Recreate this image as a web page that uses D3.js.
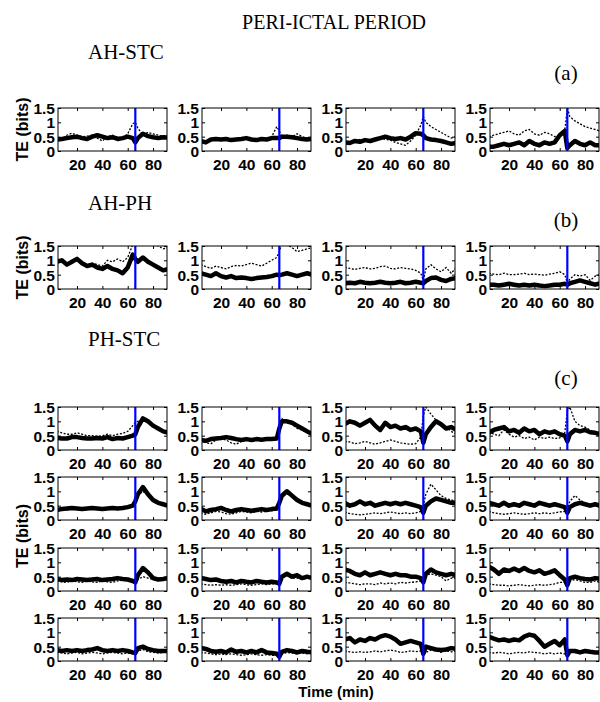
<!DOCTYPE html>
<html><head><meta charset="utf-8">
<script src="https://cdn.jsdelivr.net/npm/d3@7"></script>
<style>body{margin:0;background:#fff}svg{display:block}</style>
</head><body>
<svg id="chart" width="600" height="702"></svg>
<script>
// ---------- data ----------
const timeMin = [4,8,12,16,20,24,28,32,36,40,44,48,52,56,60,64,66,68,72,76,80,84,88,92];
const onsetMin = 66;
const xTicks = [20,40,60,80];
const yTicks = [0,0.5,1,1.5];
const yTickLabels = ["0","0.5","1","1.5"];
const sectionTitles = ["AH-STC","AH-PH","PH-STC"];
const sectionTags = ["(a)","(b)","(c)"];
const mainTitle = "PERI-ICTAL PERIOD";

// (a) AH-STC
const ahStcSolid = [
  [0.4,0.42,0.45,0.48,0.5,0.45,0.42,0.5,0.55,0.5,0.45,0.48,0.42,0.45,0.5,0.45,0.3,0.45,0.6,0.52,0.48,0.45,0.48,0.47],
  [0.35,0.3,0.4,0.42,0.4,0.42,0.38,0.4,0.42,0.45,0.4,0.38,0.42,0.4,0.45,0.45,0.45,0.5,0.5,0.48,0.45,0.42,0.4,0.42],
  [0.3,0.28,0.35,0.32,0.38,0.35,0.4,0.45,0.5,0.45,0.42,0.45,0.4,0.5,0.62,0.6,0.55,0.45,0.4,0.38,0.35,0.3,0.25,0.28],
  [0.15,0.15,0.2,0.25,0.2,0.25,0.3,0.2,0.35,0.25,0.2,0.3,0.25,0.3,0.55,0.7,0.1,0.2,0.35,0.25,0.2,0.3,0.2,0.2]
];
const ahStcDotted = [
  [0.38,0.42,0.55,0.62,0.55,0.5,0.52,0.55,0.45,0.35,0.5,0.55,0.48,0.45,0.6,0.95,1.0,0.8,0.55,0.65,0.6,0.55,0.52,0.5],
  [0.35,0.3,0.38,0.4,0.38,0.4,0.35,0.38,0.4,0.42,0.38,0.35,0.4,0.38,0.5,0.85,0.7,0.5,0.55,0.5,0.6,0.5,0.45,0.45],
  [0.25,0.3,0.35,0.4,0.35,0.38,0.42,0.45,0.4,0.38,0.3,0.25,0.2,0.35,0.55,0.9,1.2,1.0,0.85,0.75,0.65,0.55,0.45,0.5],
  [0.5,0.55,0.6,0.65,0.7,0.6,0.55,0.7,0.75,0.6,0.55,0.65,0.6,0.5,0.55,0.7,1.5,1.2,1.05,0.95,0.85,0.8,0.75,0.7]
];
// (b) AH-PH
const ahPhSolid = [
  [0.95,1.0,0.85,0.95,1.05,0.9,0.8,0.85,0.75,0.7,0.8,0.7,0.65,0.55,0.75,1.2,1.05,0.95,1.1,0.95,0.85,0.75,0.65,0.7],
  [0.55,0.5,0.45,0.55,0.45,0.4,0.45,0.38,0.4,0.38,0.35,0.38,0.4,0.42,0.45,0.5,0.48,0.5,0.55,0.5,0.45,0.5,0.55,0.5],
  [0.2,0.22,0.2,0.25,0.22,0.2,0.22,0.25,0.22,0.2,0.22,0.25,0.2,0.22,0.25,0.22,0.2,0.28,0.38,0.4,0.32,0.28,0.35,0.38],
  [0.15,0.15,0.12,0.15,0.18,0.15,0.12,0.15,0.12,0.15,0.12,0.1,0.12,0.15,0.15,0.18,0.15,0.2,0.25,0.3,0.25,0.2,0.15,0.2]
];
const ahPhDotted = [
  [0.95,1.0,0.85,0.95,1.05,0.95,0.85,0.9,0.85,0.8,1.0,0.95,1.05,0.95,1.1,1.55,1.7,1.8,1.7,1.6,1.6,1.5,1.4,1.45],
  [0.85,0.78,0.72,0.8,0.75,0.7,0.78,0.82,0.8,0.85,0.9,0.85,0.8,0.9,1.0,1.1,1.3,1.6,1.55,1.45,1.3,1.35,1.4,1.45],
  [0.75,0.72,0.68,0.72,0.75,0.7,0.72,0.78,0.8,0.72,0.7,0.75,0.72,0.7,0.65,0.55,0.3,0.7,0.85,0.7,0.6,0.75,0.55,0.75],
  [0.55,0.52,0.5,0.55,0.5,0.5,0.52,0.55,0.5,0.52,0.5,0.48,0.52,0.55,0.6,0.5,0.2,0.35,0.5,0.45,0.5,0.3,0.45,0.5]
];
// (c) PH-STC, four rows of four panels
const phStcSolid = [
  [0.42,0.4,0.4,0.45,0.45,0.42,0.4,0.4,0.42,0.4,0.45,0.38,0.42,0.4,0.45,0.5,0.55,0.8,1.1,1.0,0.85,0.75,0.65,0.6],
  [0.35,0.32,0.38,0.4,0.42,0.45,0.42,0.38,0.35,0.38,0.35,0.38,0.36,0.38,0.38,0.4,0.75,1.0,1.0,0.95,0.85,0.75,0.65,0.55],
  [0.9,1.0,0.95,0.85,0.95,1.05,0.85,0.7,0.95,0.8,0.85,0.75,0.8,0.7,0.75,0.65,0.25,0.55,0.8,1.0,0.9,0.75,0.8,0.7],
  [0.6,0.7,0.75,0.8,0.65,0.7,0.6,0.75,0.65,0.7,0.55,0.65,0.6,0.65,0.55,0.5,0.3,0.55,0.7,0.65,0.7,0.62,0.6,0.55],
  [0.35,0.38,0.4,0.42,0.4,0.38,0.4,0.42,0.4,0.38,0.4,0.42,0.4,0.42,0.45,0.5,0.65,0.9,1.15,0.9,0.7,0.6,0.55,0.5],
  [0.4,0.3,0.35,0.38,0.42,0.35,0.3,0.35,0.38,0.35,0.32,0.35,0.38,0.35,0.38,0.4,0.6,0.85,1.0,0.85,0.7,0.6,0.55,0.5],
  [0.6,0.5,0.55,0.65,0.55,0.6,0.5,0.55,0.6,0.55,0.6,0.55,0.6,0.55,0.5,0.45,0.25,0.5,0.65,0.75,0.7,0.65,0.6,0.6],
  [0.6,0.55,0.5,0.6,0.5,0.55,0.5,0.6,0.55,0.5,0.6,0.55,0.5,0.55,0.5,0.45,0.25,0.45,0.55,0.6,0.55,0.5,0.55,0.5],
  [0.42,0.38,0.4,0.38,0.42,0.4,0.38,0.4,0.42,0.38,0.4,0.42,0.45,0.42,0.4,0.35,0.3,0.55,0.8,0.65,0.45,0.4,0.42,0.45],
  [0.45,0.42,0.38,0.4,0.35,0.32,0.35,0.3,0.35,0.32,0.3,0.35,0.32,0.3,0.32,0.3,0.25,0.5,0.6,0.5,0.55,0.45,0.5,0.45],
  [0.75,0.7,0.6,0.55,0.65,0.55,0.6,0.65,0.6,0.55,0.6,0.55,0.55,0.5,0.5,0.45,0.3,0.6,0.75,0.65,0.6,0.55,0.6,0.55],
  [0.85,0.75,0.6,0.75,0.7,0.78,0.7,0.8,0.7,0.65,0.72,0.6,0.65,0.72,0.55,0.4,0.2,0.45,0.5,0.45,0.42,0.4,0.45,0.42],
  [0.38,0.35,0.38,0.35,0.38,0.35,0.38,0.4,0.45,0.38,0.35,0.38,0.35,0.38,0.35,0.3,0.28,0.45,0.5,0.42,0.38,0.35,0.35,0.35],
  [0.45,0.42,0.35,0.32,0.35,0.3,0.4,0.32,0.35,0.3,0.35,0.3,0.38,0.3,0.28,0.25,0.15,0.32,0.38,0.35,0.3,0.35,0.32,0.3],
  [0.75,0.8,0.65,0.75,0.7,0.8,0.75,0.85,0.9,0.85,0.75,0.6,0.65,0.7,0.65,0.6,0.25,0.5,0.45,0.4,0.38,0.4,0.45,0.42],
  [0.85,0.78,0.72,0.75,0.7,0.75,0.72,0.85,0.92,0.88,0.7,0.5,0.6,0.7,0.55,0.75,0.2,0.35,0.35,0.3,0.35,0.32,0.3,0.3]
];
const phStcDotted = [
  [0.65,0.6,0.55,0.55,0.6,0.55,0.5,0.5,0.48,0.5,0.55,0.5,0.55,0.58,0.65,0.85,0.95,1.0,1.05,1.0,0.9,0.75,0.65,0.6],
  [0.35,0.25,0.22,0.35,0.4,0.35,0.25,0.2,0.3,0.35,0.32,0.35,0.35,0.38,0.35,0.45,0.9,1.1,0.95,0.9,0.75,0.7,0.6,0.55],
  [0.3,0.28,0.22,0.25,0.3,0.25,0.2,0.25,0.3,0.35,0.3,0.25,0.22,0.2,0.22,0.45,1.2,1.5,1.25,1.05,0.95,0.8,0.65,0.55],
  [0.65,0.55,0.5,0.7,0.55,0.45,0.5,0.4,0.45,0.35,0.45,0.4,0.45,0.4,0.42,0.6,1.35,1.5,1.0,0.85,0.8,0.7,0.6,0.55],
  [0.5,0.4,0.35,0.38,0.4,0.35,0.38,0.4,0.38,0.35,0.38,0.4,0.38,0.4,0.42,0.45,0.6,0.85,1.0,0.85,0.65,0.6,0.55,0.55],
  [0.25,0.2,0.25,0.3,0.28,0.22,0.2,0.25,0.3,0.28,0.25,0.3,0.28,0.3,0.32,0.35,0.55,0.8,0.9,0.85,0.75,0.6,0.55,0.5],
  [0.28,0.22,0.2,0.18,0.2,0.22,0.25,0.22,0.25,0.28,0.25,0.22,0.25,0.22,0.25,0.3,0.5,0.9,1.25,1.05,0.85,0.75,0.7,0.65],
  [0.3,0.25,0.22,0.2,0.22,0.25,0.22,0.2,0.22,0.25,0.22,0.25,0.22,0.25,0.28,0.3,0.4,0.65,0.85,0.7,0.6,0.55,0.5,0.5],
  [0.35,0.32,0.3,0.35,0.32,0.3,0.35,0.32,0.3,0.35,0.32,0.3,0.35,0.38,0.35,0.32,0.3,0.4,0.5,0.45,0.4,0.38,0.4,0.42],
  [0.25,0.22,0.2,0.22,0.2,0.22,0.2,0.22,0.25,0.22,0.2,0.22,0.25,0.22,0.25,0.25,0.3,0.45,0.55,0.45,0.45,0.4,0.45,0.4],
  [0.3,0.28,0.25,0.22,0.25,0.25,0.22,0.28,0.25,0.28,0.25,0.3,0.28,0.3,0.32,0.35,0.3,0.55,0.6,0.55,0.5,0.35,0.45,0.45],
  [0.25,0.22,0.2,0.2,0.18,0.2,0.22,0.2,0.18,0.2,0.22,0.2,0.22,0.25,0.3,0.3,0.25,0.35,0.4,0.35,0.3,0.3,0.35,0.3],
  [0.3,0.28,0.25,0.28,0.3,0.25,0.28,0.3,0.28,0.25,0.28,0.3,0.28,0.25,0.28,0.25,0.2,0.35,0.4,0.32,0.3,0.28,0.3,0.3],
  [0.3,0.28,0.25,0.22,0.25,0.22,0.25,0.22,0.2,0.22,0.25,0.22,0.2,0.22,0.2,0.2,0.15,0.25,0.3,0.28,0.25,0.28,0.25,0.28],
  [0.35,0.32,0.3,0.32,0.3,0.32,0.35,0.32,0.35,0.38,0.35,0.3,0.32,0.35,0.33,0.35,0.2,0.3,0.38,0.35,0.3,0.35,0.32,0.35],
  [0.3,0.28,0.3,0.28,0.25,0.28,0.3,0.28,0.32,0.3,0.28,0.25,0.28,0.25,0.28,0.25,0.15,0.3,0.3,0.28,0.3,0.28,0.3,0.25]
];

// ---------- layout ----------
const svg = d3.select("#chart");
const W = 109, H = 43;
const colLeft = [58, 202, 346, 490];
const rowTop = [108, 246, 407, 477, 548, 618];
const sansBold = "'Liberation Sans', Arial, Helvetica, sans-serif";
const serif = "'Liberation Serif', 'Times New Roman', serif";

const x = d3.scaleLinear().domain([5, 91]).range([0, W]);
const y = d3.scaleLinear().domain([0, 1.5]).range([H, 0]);

const rows = [
  {solid: ahStcSolid, dotted: ahStcDotted},
  {solid: ahPhSolid, dotted: ahPhDotted},
  {solid: phStcSolid.slice(0,4), dotted: phStcDotted.slice(0,4)},
  {solid: phStcSolid.slice(4,8), dotted: phStcDotted.slice(4,8)},
  {solid: phStcSolid.slice(8,12), dotted: phStcDotted.slice(8,12)},
  {solid: phStcSolid.slice(12,16), dotted: phStcDotted.slice(12,16)}
];

const line = d3.line().x((d,i) => x(timeMin[i])).y(d => y(d));

// titles
svg.append("text").attr("x", 334).attr("y", 29).attr("text-anchor","middle")
  .attr("font-family", serif).attr("font-size", 20).text(mainTitle);
const titleY = [59, 210, 346];
const tagY = [80, 227, 385];
sectionTitles.forEach((t,i) => {
  svg.append("text").attr("x", 88).attr("y", titleY[i]).attr("font-family", serif)
    .attr("font-size", 21).text(t);
  svg.append("text").attr("x", 566).attr("y", tagY[i]).attr("text-anchor","middle")
    .attr("font-family", serif).attr("font-size", 21).text(sectionTags[i]);
});

let clipId = 0;
rows.forEach((row, r) => {
  colLeft.forEach((cx, c) => {
    const g = svg.append("g").attr("transform", `translate(${cx},${rowTop[r]})`);
    const id = "clip" + (clipId++);
    g.append("clipPath").attr("id", id).append("rect").attr("width", W).attr("height", H);
    const plot = g.append("g").attr("clip-path", `url(#${id})`);
    plot.append("path").datum(row.dotted[c]).attr("d", line)
      .attr("fill","none").attr("stroke","#000").attr("stroke-width",1.3)
      .attr("stroke-dasharray","2,1.6");
    plot.append("path").datum(row.solid[c]).attr("d", line)
      .attr("fill","none").attr("stroke","#000").attr("stroke-width",4.5)
      .attr("stroke-linejoin","round");
    plot.append("line").attr("x1", x(onsetMin)).attr("x2", x(onsetMin))
      .attr("y1", 0).attr("y2", H).attr("stroke", "#0000ff").attr("stroke-width", 2.2);

    // axes (MATLAB-like: inward ticks, full box)
    const yAxis = d3.axisLeft(y).tickValues(yTicks).tickSizeInner(-3).tickSizeOuter(0)
      .tickPadding(3).tickFormat((d,i) => yTickLabels[i]);
    const xAxis = d3.axisBottom(x).tickValues(xTicks).tickSizeInner(-3).tickSizeOuter(0)
      .tickPadding(8);
    const ya = g.append("g").call(yAxis);
    const xa = g.append("g").attr("transform", `translate(0,${H})`).call(xAxis);
    g.append("g").attr("transform", `translate(${W},0)`)
      .call(d3.axisRight(y).tickValues(yTicks).tickSizeInner(-3).tickSizeOuter(0).tickFormat(""));
    g.append("g").call(d3.axisTop(x).tickValues(xTicks).tickSizeInner(-3).tickSizeOuter(0).tickFormat(""));
    g.selectAll(".domain").remove();
    g.selectAll(".tick line").attr("stroke","#000");
    [ya, xa].forEach(a => a.selectAll("text").attr("font-family", sansBold)
      .attr("font-weight","bold").attr("font-size", 15.5).attr("fill","#000"));
    ya.selectAll("text").attr("dy","0.36em");
    xa.selectAll("text").attr("dy","0.72em");
    g.append("rect").attr("width", W).attr("height", H).attr("fill","none")
      .attr("stroke","#000").attr("stroke-width",1);
  });
});

// y labels
const yLabelCenters = [rowTop[0] + H/2, rowTop[1] + H/2, 536];
yLabelCenters.forEach(cy => {
  svg.append("text").attr("transform", `translate(28,${cy}) rotate(-90)`)
    .attr("text-anchor","middle").attr("font-family", sansBold).attr("font-weight","bold")
    .attr("font-size", 16).text("TE (bits)");
});
svg.append("text").attr("x", 336).attr("y", 697).attr("text-anchor","middle")
  .attr("font-family", sansBold).attr("font-weight","bold").attr("font-size", 15).text("Time (min)");
</script>
</body></html>
